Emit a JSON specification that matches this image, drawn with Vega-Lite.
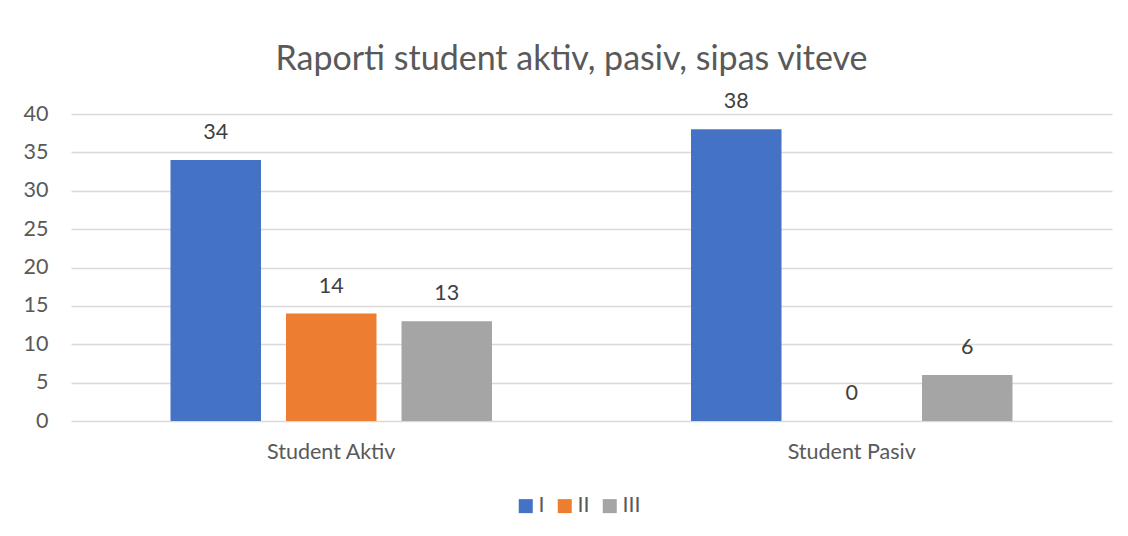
{
  "$schema": "https://vega.github.io/schema/vega-lite/v6.json",
  "width": 1041,
  "height": 307,
  "autosize": {"type": "none"},
  "padding": {"left": 71, "top": 114, "right": 16, "bottom": 115},
  "background": "white",
  "title": {
    "text": "Raporti student aktiv, pasiv, sipas viteve",
    "font": "Lato",
    "fontSize": 34,
    "fontWeight": "normal",
    "color": "#595959",
    "anchor": "middle",
    "frame": "group",
    "baseline": "alphabetic",
    "offset": -13,
    "dx": -20
  },
  "data": {
    "values": [
      {"category": "Student Aktiv", "year": "I", "count": 34},
      {"category": "Student Aktiv", "year": "II", "count": 14},
      {"category": "Student Aktiv", "year": "III", "count": 13},
      {"category": "Student Pasiv", "year": "I", "count": 38},
      {"category": "Student Pasiv", "year": "II", "count": 0},
      {"category": "Student Pasiv", "year": "III", "count": 6}
    ]
  },
  "encoding": {
    "x": {
      "field": "category",
      "type": "nominal",
      "scale": {"paddingInner": 0, "paddingOuter": 0},
      "axis": {
        "title": null,
        "labelAngle": 0,
        "labelFont": "Lato",
        "labelFontSize": 21.5,
        "labelColor": "#595959",
        "labelPadding": 20,
        "ticks": false,
        "domain": false,
        "grid": false
      }
    },
    "xOffset": {
      "field": "year",
      "type": "nominal",
      "sort": ["I", "II", "III"],
      "scale": {"paddingInner": 0.2165, "paddingOuter": 0.8616}
    },
    "y": {
      "field": "count",
      "type": "quantitative",
      "scale": {"domain": [0, 40]},
      "axis": {
        "title": null,
        "values": [0, 5, 10, 15, 20, 25, 30, 35, 40],
        "labelFont": "Lato",
        "labelFontSize": 21.5,
        "labelColor": "#595959",
        "labelPadding": 23,
        "ticks": false,
        "domain": false,
        "grid": true,
        "gridColor": "#d9d9d9",
        "gridWidth": 1.3
      }
    }
  },
  "layer": [
    {
      "mark": {"type": "bar"},
      "encoding": {
        "color": {
          "field": "year",
          "type": "nominal",
          "sort": ["I", "II", "III"],
          "scale": {"domain": ["I", "II", "III"], "range": ["#4472C4", "#ED7D31", "#A5A5A5"]},
          "legend": {
            "title": null,
            "orient": "none",
            "direction": "horizontal",
            "legendX": 444,
            "legendY": 381,
            "symbolType": "square",
            "symbolSize": 196,
            "symbolStrokeWidth": 0,
            "labelFont": "Lato",
            "labelFontSize": 21.5,
            "labelColor": "#595959",
            "labelOffset": 2,
            "columnPadding": 9
          }
        }
      }
    },
    {
      "mark": {"type": "text", "baseline": "alphabetic", "dy": -21, "font": "Lato", "fontSize": 21.5, "color": "#404040"},
      "encoding": {
        "text": {"field": "count", "type": "quantitative"}
      }
    }
  ],
  "config": {
    "view": {"stroke": null}
  }
}
